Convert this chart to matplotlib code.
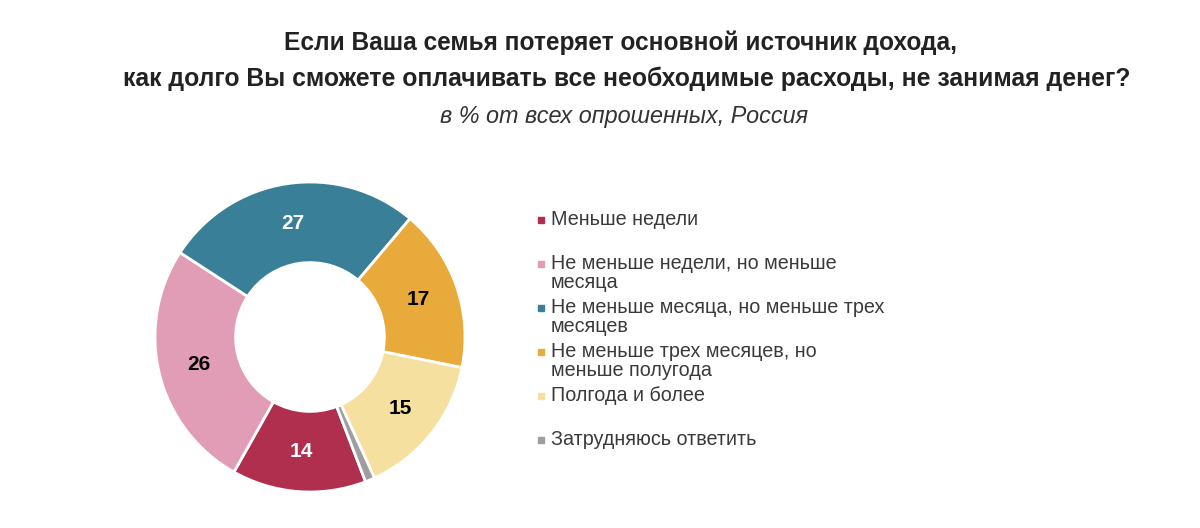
import matplotlib
matplotlib.use("Agg")
import matplotlib.pyplot as plt
from matplotlib.patches import Rectangle

title_lines = ["Если Ваша семья потеряет основной источник дохода,",
               "как долго Вы сможете оплачивать все необходимые расходы, не занимая денег?"]
subtitle = "в % от всех опрошенных, Россия"

categories = ["Меньше недели",
              "Не меньше недели, но меньше\nмесяца",
              "Не меньше месяца, но меньше трех\nмесяцев",
              "Не меньше трех месяцев, но\nменьше полугода",
              "Полгода и более",
              "Затрудняюсь ответить"]
values = [14, 26, 27, 17, 15, 1]
colors = ["#B02E4E", "#E09DB5", "#3A7F98", "#E8AA3A", "#F6E0A0", "#9E9E9E"]
label_colors = ["white", "black", "white", "black", "black", None]

W, H = 1200, 528
fig = plt.figure(figsize=(W / 100, H / 100), dpi=100)
fig.patch.set_facecolor("white")

cx, cy, r = 310, 337, 155
ax = fig.add_axes([(cx - r) / W, (H - cy - r) / H, 2 * r / W, 2 * r / H])
total = sum(values)
wedges, texts, autotexts = ax.pie(
    values, colors=colors, startangle=-69, counterclock=False, radius=1,
    wedgeprops=dict(width=0.52, edgecolor="white", linewidth=2),
    autopct=lambda p: f"{round(p * total / 100)}" if p > 3 else "",
    pctdistance=0.74,
    textprops=dict(fontsize=15, fontweight="bold", family="Liberation Sans"))
for t, c in zip(autotexts, label_colors):
    if c:
        t.set_color(c)
ax.set_xlim(-1, 1)
ax.set_ylim(-1, 1)
ax.set_aspect("equal")
ax.axis("off")

renderer = fig.canvas.get_renderer()


def fitted_text(x, y, s, width, **kw):
    t = fig.text(x / W, 1 - y / H, s, ha="center", va="center", **kw)
    w = t.get_window_extent(renderer).width
    t.set_fontsize(t.get_fontsize() * width / w)
    return t


fitted_text(620, 43, title_lines[0], 675, fontsize=18, fontweight="bold",
            family="Liberation Sans", color="#222222")
fitted_text(627, 79, title_lines[1], 1008, fontsize=18, fontweight="bold",
            family="Liberation Sans", color="#222222")
fitted_text(624, 117, subtitle, 368, fontsize=16, style="italic",
            family="Liberation Sans", color="#333333")

# legend
y0, step = 219, 44
for i, (lab, col) in enumerate(zip(categories, colors)):
    y = y0 + i * step
    fig.patches.append(Rectangle((538 / W, 1 - (y + 3.5) / H), 6 / W, 6 / H,
                                 transform=fig.transFigure, color=col))
    fig.text(551 / W, 1 - (y - 9) / H, lab, ha="left", va="top",
             fontsize=14.2, family="Liberation Sans", color="#3a3a3a",
             linespacing=0.98)

fig.savefig("out.png", dpi=100)
